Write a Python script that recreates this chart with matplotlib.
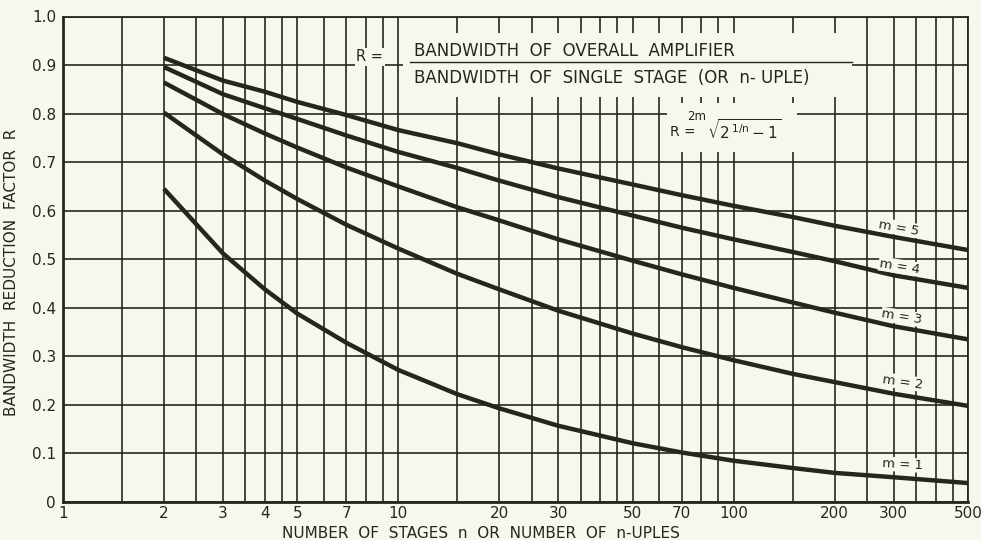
import matplotlib
matplotlib.use("Agg")
import matplotlib.pyplot as plt
from matplotlib.patches import Rectangle
from matplotlib.ticker import FixedLocator, NullFormatter

plt.rcParams['font.family'] = ['DejaVu Sans']
plt.rcParams['mathtext.fontset'] = 'dejavusans'

# Values: R for each m at these n
n_stages = [2, 3, 4, 5, 7, 10, 15, 20, 30, 50, 70, 100, 150, 200, 300, 500]
r_m1 = [0.645, 0.512, 0.438, 0.388, 0.328, 0.272, 0.222, 0.193, 0.157,
        0.121, 0.102, 0.085, 0.070, 0.060, 0.051, 0.039]
r_m2 = [0.802, 0.716, 0.662, 0.624, 0.571, 0.522, 0.470, 0.438, 0.394,
        0.347, 0.319, 0.292, 0.264, 0.247, 0.223, 0.198]
r_m3 = [0.864, 0.799, 0.759, 0.730, 0.689, 0.650, 0.607, 0.580, 0.541,
        0.497, 0.469, 0.441, 0.411, 0.390, 0.362, 0.335]
r_m4 = [0.896, 0.840, 0.811, 0.789, 0.755, 0.721, 0.688, 0.662, 0.628,
        0.590, 0.565, 0.541, 0.515, 0.496, 0.467, 0.441]
r_m5 = [0.915, 0.868, 0.845, 0.824, 0.797, 0.766, 0.739, 0.716, 0.687,
        0.654, 0.632, 0.610, 0.587, 0.569, 0.546, 0.519]
curves = [r_m1, r_m2, r_m3, r_m4, r_m5]
curve_labels = ['m = 1', 'm = 2', 'm = 3', 'm = 4', 'm = 5']
label_pos = [(318, 0.077, -3), (320, 0.247, -8), (318, 0.381, -9),
             (312, 0.485, -9), (310, 0.565, -10)]

x_ticks = [1, 2, 3, 4, 5, 7, 10, 20, 30, 50, 70, 100, 200, 300, 500]
x_grid = [1, 1.5, 2, 2.5, 3, 3.5, 4, 4.5, 5, 6, 7, 8, 9,
          10, 15, 20, 25, 30, 35, 40, 45, 50, 60, 70, 80, 90,
          100, 150, 200, 250, 300, 350, 400, 450, 500]
y_ticks = [0.0, 0.1, 0.2, 0.3, 0.4, 0.5, 0.6, 0.7, 0.8, 0.9, 1.0]
y_ticklabels = ['0', '0.1', '0.2', '0.3', '0.4', '0.5', '0.6', '0.7',
                '0.8', '0.9', '1.0']

ink = '#26261f'
paper = '#f8f7ef'

fig = plt.figure(figsize=(9.81, 5.4), dpi=100, facecolor=paper)
ax = fig.add_axes([63/981, 38/540, 905/981, 485.5/540], facecolor=paper)

ax.set_xscale('log')
ax.set_xlim(1, 500)
ax.set_ylim(0, 1.0)

ax.xaxis.set_major_locator(FixedLocator(x_ticks))
ax.set_xticklabels([str(t) for t in x_ticks])
ax.xaxis.set_minor_locator(FixedLocator(x_grid))
ax.xaxis.set_minor_formatter(NullFormatter())
ax.set_yticks(y_ticks)
ax.set_yticklabels(y_ticklabels)

ax.set_axisbelow(True)
ax.grid(which='both', axis='x', color=ink, lw=1.2)
ax.grid(which='major', axis='y', color=ink, lw=1.2)
ax.tick_params(which='both', length=0, labelsize=11, colors=ink)
ax.tick_params(axis='x', pad=3)
ax.tick_params(axis='y', pad=5)

for side in ['left', 'bottom']:
    ax.spines[side].set_linewidth(2.0)
for side in ['top', 'right']:
    ax.spines[side].set_linewidth(1.3)
for sp in ax.spines.values():
    sp.set_color(ink)

for r, lab, (lx, ly, rot) in zip(curves, curve_labels, label_pos):
    ax.plot(n_stages, r, color=ink, lw=3.2, zorder=3,
            solid_capstyle='butt')
    ax.text(lx, ly, lab, fontsize=9.5, color=ink, rotation=rot,
            rotation_mode='anchor', ha='center', va='center', zorder=4,
            bbox=dict(facecolor=paper, edgecolor='none', pad=0.5))

# boxes that blank out the grid behind the definition texts
ax.add_patch(Rectangle((0.3757, 0.834), 0.4961, 0.132,
                       transform=ax.transAxes, facecolor=paper,
                       edgecolor='none', zorder=2))
ax.add_patch(Rectangle((0.6674, 0.721), 0.1436, 0.101,
                       transform=ax.transAxes, facecolor=paper,
                       edgecolor='none', zorder=2))

ax.text(0.339, 0.9166, 'R =', transform=ax.transAxes, fontsize=10.5,
        color=ink, ha='center', va='center', zorder=4,
        bbox=dict(facecolor=paper, edgecolor='none', pad=1))
ax.text(0.388, 0.929, 'BANDWIDTH  OF  OVERALL  AMPLIFIER',
        transform=ax.transAxes, fontsize=12, color=ink,
        ha='left', va='center', zorder=4)
ax.text(0.388, 0.873, 'BANDWIDTH  OF  SINGLE  STAGE  (OR  n- UPLE)',
        transform=ax.transAxes, fontsize=12, color=ink,
        ha='left', va='center', zorder=4)
ax.plot([0.3834, 0.8718], [0.906, 0.906], transform=ax.transAxes,
        color=ink, lw=1.0, zorder=4)

# R = 2m-th root of (2^(1/n) - 1)
ax.text(0.6707, 0.762, 'R =', transform=ax.transAxes, fontsize=10,
        color=ink, ha='left', va='center', zorder=4)
ax.text(0.700, 0.794, '2m', transform=ax.transAxes, fontsize=8.5,
        color=ink, ha='center', va='center', zorder=4)
ax.text(0.7115, 0.766, r'$\sqrt{\mathrm{2}^{\,\mathrm{1/n}}-\mathrm{1}}$',
        transform=ax.transAxes, fontsize=11, color=ink,
        ha='left', va='center', zorder=4)

fig.text(0.49, 1 - 533/540, 'NUMBER  OF  STAGES  n  OR  NUMBER  OF  n-UPLES',
         fontsize=11, color=ink, ha='center', va='center')
fig.text(12/981, 1 - 272/540, 'BANDWIDTH  REDUCTION  FACTOR  R',
         fontsize=11, color=ink, rotation=90, ha='center', va='center')

fig.savefig('out.png', dpi=100, facecolor=paper)
